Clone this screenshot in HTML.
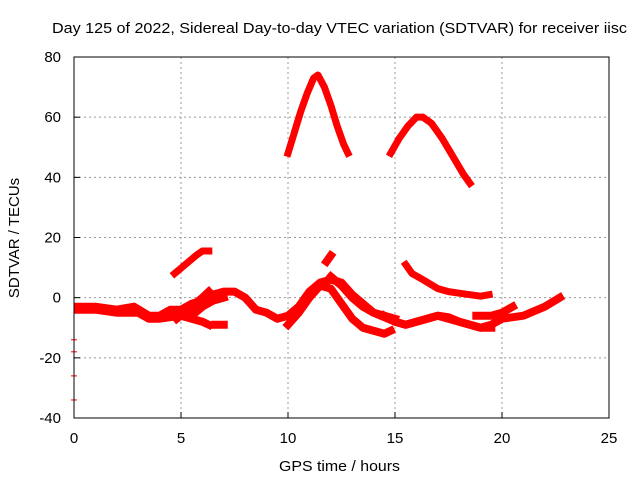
<!DOCTYPE html>
<html><head><meta charset="utf-8"><style>
body{margin:0;background:#fff;}
svg text{font-family:"Liberation Sans",sans-serif;fill:#000;}
</style></head><body>
<svg id="c" width="640" height="480" xmlns="http://www.w3.org/2000/svg">
<rect width="640" height="480" fill="#fff"/>
<g id="grid"></g><g id="marks"></g><g id="axes"></g>
<text x="52" y="33" font-size="15" textLength="575" lengthAdjust="spacingAndGlyphs">Day 125 of 2022, Sidereal Day-to-day VTEC variation (SDTVAR) for receiver iisc</text>
<text x="279" y="471" font-size="15" textLength="121" lengthAdjust="spacingAndGlyphs">GPS time / hours</text>
<text x="19" y="238" font-size="15" text-anchor="middle" transform="rotate(-90 19 238)">SDTVAR / TECUs</text>
</svg>
<script>
const xTicks=[0,5,10,15,20,25];
const yTicks=[-40,-20,0,20,40,60,80];
const seriesA=[[10.0,48],[10.3,55],[10.6,62],[10.9,68],[11.2,73],[11.4,74],[11.7,70],[12.0,64],[12.3,57],[12.6,51],[12.8,48]];
const seriesB=[[14.8,48],[15.2,53],[15.6,57],[16.0,60],[16.3,60],[16.7,58],[17.2,53],[17.7,47],[18.2,41],[18.5,38]];
const seriesC=[[4.7,8],[5.2,11],[5.7,14],[6.0,15.5],[6.3,15.5]];
const seriesD=[[15.5,11],[15.8,8],[16.3,6],[17.0,3],[17.5,2],[18.0,1.5],[18.5,1],[19.0,0.5],[19.4,1]];
const seriesE=[[0.2,-3],[1,-3],[2,-4],[2.8,-3],[3.5,-6],[4,-6],[4.5,-4],[5,-4],[5.5,-2],[6,-1],[6.5,1],[7,2],[7.5,2],[8,0],[8.5,-4],[9,-5],[9.5,-7],[10,-6],[10.5,-3],[11,2],[11.5,5],[12,6],[12.5,5],[13,1],[13.5,-2],[14,-5],[15,-8],[15.5,-9],[16,-8],[17,-6],[18,-8],[19,-10],[19.5,-9],[20,-7],[21,-6],[22,-3],[22.7,0]];
const seriesF=[[0.2,-4],[1,-4],[2,-5],[3,-5],[3.5,-7],[4,-7],[5,-6],[5.5,-7],[6,-8],[6.3,-9]];
const seriesG=[[4.8,-7],[5.5,-3],[6,0],[6.3,2]];
const seriesH=[[5,-5],[5.5,-6],[6,-3],[6.5,-1],[7,0]];
const seriesI=[[6.6,-9],[7.0,-9]];
const seriesJ=[[10.0,-9],[10.5,-5],[11,0],[11.5,4],[12.0,3],[12.5,-2],[13,-7],[13.5,-10],[14,-11],[14.5,-12],[14.8,-11]];
const seriesK=[[11.8,12],[12.0,14]];
const seriesL=[[12,7],[12.5,4],[13,0],[13.5,-3],[14,-5],[14.5,-6],[15,-7]];
const seriesM=[[14.5,-6],[15,-8],[15.5,-9],[16,-8],[16.5,-7],[17,-6],[17.5,-6.5],[18,-8],[18.5,-9],[19,-10],[19.5,-10]];
const seriesN=[[18.8,-6],[19.5,-6],[20,-5],[20.5,-3]];
const outliers=[[0,-14],[0,-18],[0,-26],[0,-34]];
const allSeries=[seriesA,seriesB,seriesC,seriesD,seriesE,seriesF,seriesG,seriesH,seriesI,seriesJ,seriesK,seriesL,seriesM,seriesN];
const X0=74,X1=609,Y0=418,Y1=57;
function sx(v){return X0+(v-0)/(25-0)*(X1-X0);}
function sy(v){return Y0-(v+40)/(120)*(Y0-Y1);}
const NS='http://www.w3.org/2000/svg';
function mk(t,a,p){const e=document.createElementNS(NS,t);for(const k in a)e.setAttribute(k,a[k]);p.appendChild(e);return e;}
const grid=document.getElementById('grid'),marks=document.getElementById('marks'),axes=document.getElementById('axes');
xTicks.forEach(t=>{
 if(t>0&&t<25){const l=mk('line',{x1:sx(t),x2:sx(t),y1:Y1,y2:Y0,stroke:'#999','stroke-dasharray':'2,3','stroke-width':1},grid);
 
 }
 const tk=mk('line',{x1:sx(t),x2:sx(t),y1:Y0,y2:Y0-6,stroke:'#000'},axes);
 
 
 const tx=mk('text',{x:sx(t),y:Y0+25,'font-size':15,'text-anchor':'middle'},axes);tx.textContent=t;
 
 
});
yTicks.forEach(t=>{
 if(t>-40&&t<80){const l=mk('line',{x1:X0,x2:X1,y1:sy(t),y2:sy(t),stroke:'#999','stroke-dasharray':'2,3','stroke-width':1},grid);
 
 }
 const tk=mk('line',{x1:X0,x2:X0+6,y1:sy(t),y2:sy(t),stroke:'#000'},axes);
 
 
 const tx=mk('text',{x:X0-13,y:sy(t)+5,'font-size':15,'text-anchor':'end'},axes);tx.textContent=t;
 
 
});
const fr=mk('rect',{x:X0,y:Y1,width:X1-X0,height:Y0-Y1,fill:'none',stroke:'#000'},axes);


allSeries.forEach((s,i)=>{
 const p=mk('polyline',{points:s.map(d=>sx(d[0])+','+sy(d[1])).join(' '),fill:'none',stroke:'#f00','stroke-width':i<4?7:8,'stroke-linejoin':'round','stroke-linecap':'square'},marks);
 
 
});
outliers.forEach(d=>{
 const l=mk('line',{x1:sx(d[0])-3,x2:sx(d[0])+3,y1:sy(d[1]),y2:sy(d[1]),stroke:'#f00'},marks);
 
 
});
</script>
</body></html>
